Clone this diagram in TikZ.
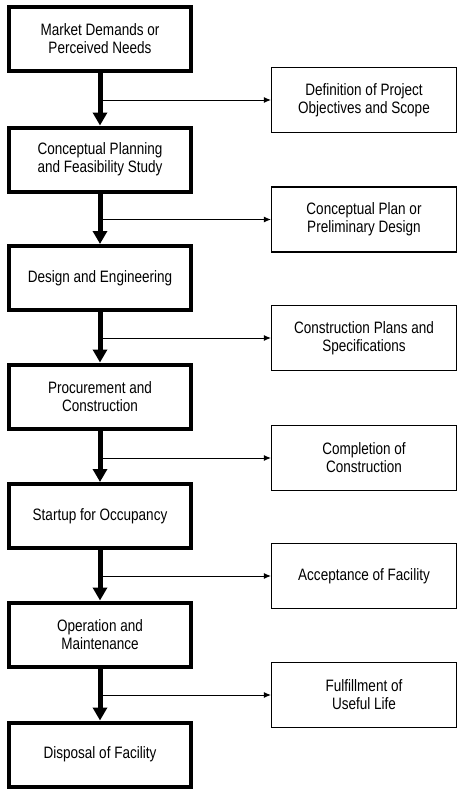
\documentclass[tikz,border=0pt]{standalone}
\usepackage{fontspec}
\setmainfont{Liberation Sans}[FakeStretch=0.82]
\usepackage{tikz}
\usetikzlibrary{arrows.meta}
\usetikzlibrary{calc}

\begin{document}
\begin{tikzpicture}[x=1pt,y=-1pt,
    every node/.style={font=\fontsize{16.5}{18}\selectfont},
    stage/.style={draw,line width=4pt,minimum width=182pt,minimum height=64pt,align=center},
    result/.style={draw,line width=1.1pt,minimum width=185pt,minimum height=65pt,align=center},
    flow/.style={line width=5pt,-{Triangle[width=14pt,length=13pt]}},
    branch/.style={line width=1pt,-{Latex[width=6pt,length=7pt]}}]
    \useasboundingbox (0,0) rectangle (459,795);

    % life cycle stages
    \node[stage] (s1) at (100,39) {Market Demands or\\Perceived Needs};
    \node[stage] (s2) at (100,159.5) {Conceptual Planning\\and Feasibility Study};
    \node[stage] (s3) at (100,278) {Design and Engineering};
    \node[stage] (s4) at (100,396.5) {Procurement and\\Construction};
    \node[stage] (s5) at (100,516) {Startup for Occupancy};
    \node[stage] (s6) at (100,634.5) {Operation and\\Maintenance};
    \node[stage] (s7) at (100,754.5) {Disposal of Facility};

    % outcomes
    \node[result] (r1) at (364,100) {Definition of Project\\Objectives and Scope};
    \node[result] (r2) at (364,219.5) {Conceptual Plan or\\Preliminary Design};
    \node[result] (r3) at (364,338) {Construction Plans and\\Specifications};
    \node[result] (r4) at (364,458) {Completion of\\Construction};
    \node[result] (r5) at (364,576) {Acceptance of Facility};
    \node[result] (r6) at (364,695) {Fulfillment of\\Useful Life};

    \draw[flow] (s1) -- (s2);
    \draw[flow] (s2) -- (s3);
    \draw[flow] (s3) -- (s4);
    \draw[flow] (s4) -- (s5);
    \draw[flow] (s5) -- (s6);
    \draw[flow] (s6) -- (s7);

    \draw[branch] (s1.south |- r1) -- (r1);
    \draw[branch] (s2.south |- r2) -- (r2);
    \draw[branch] (s3.south |- r3) -- (r3);
    \draw[branch] (s4.south |- r4) -- (r4);
    \draw[branch] (s5.south |- r5) -- (r5);
    \draw[branch] (s6.south |- r6) -- (r6);
\end{tikzpicture}
\end{document}
